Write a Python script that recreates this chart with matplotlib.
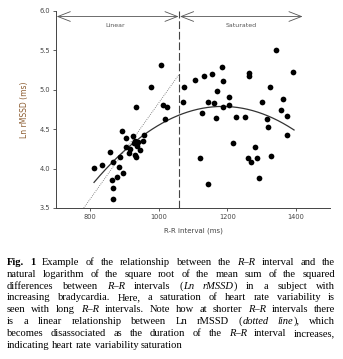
import re
import numpy as np
import matplotlib
matplotlib.use("Agg")
import matplotlib.pyplot as plt

# R-R interval (ms) and Ln rMSSD (ms)
rr = [811, 833, 859, 865, 864, 867, 865, 879, 884, 886, 895, 894, 903, 903,
      914, 916, 925, 927, 932, 940, 937, 932, 935, 935, 945, 955, 957, 977,
      1007, 1011, 1023, 1017,
      1070, 1075, 1106, 1119, 1125, 1131, 1143, 1143, 1155, 1162, 1170, 1167,
      1185, 1189, 1189, 1204, 1206, 1218, 1225, 1253, 1263, 1263, 1261, 1269,
      1281, 1286, 1292, 1302, 1317, 1320, 1324, 1329, 1341, 1358, 1362, 1374,
      1374, 1392]
ln_rmssd = [4.01, 4.05, 4.21, 4.09, 3.86, 3.76, 3.61, 3.89, 4.02, 4.15, 3.95,
            4.48, 4.39, 4.28, 4.20, 4.25, 4.41, 4.32, 4.35, 4.34, 4.29, 4.17,
            4.15, 4.78, 4.23, 4.35, 4.43, 5.03, 5.31, 4.81, 4.78, 4.63,
            4.84, 5.04, 5.13, 4.14, 4.71, 5.17, 4.84, 3.80, 5.20, 4.83, 4.99,
            4.64, 5.29, 5.11, 4.78, 4.91, 4.81, 4.32, 4.65, 4.66, 5.21, 5.18,
            4.13, 4.09, 4.28, 4.13, 3.88, 4.84, 4.63, 4.53, 5.04, 4.16, 5.50,
            4.74, 4.88, 4.67, 4.43, 5.22]

# quadratic fit, y = c0 + c1*(x - 1060) + c2*(x - 1060)^2
quad_coef = [4.68, 0.001728, -6.851e-6]
quad_range = [811, 1395]
# dotted linear relationship
lin_x = [781, 1060]
lin_y = [3.50, 5.20]
split_rr = 1060

caption = [
    "#Fig. 1#  Example of the relationship between the *R–R* interval and the",
    "natural logarithm of the square root of the mean sum of the squared",
    "differences between *R–R* intervals (*Ln rMSSD*) in a subject with",
    "increasing bradycardia. Here, a saturation of heart rate variability is",
    "seen with long *R–R* intervals. Note how at shorter *R–R* intervals there",
    "is a linear relationship between Ln rMSSD (*dotted line*), which",
    "becomes disassociated as the duration of the *R–R* interval increases,",
    "indicating heart rate variability saturation",
]

W, H = 343, 359
fig = plt.figure(figsize=(W / 100, H / 100), dpi=100)
ax = fig.add_axes([56 / W, 1 - 208 / H, 274 / W, 197 / H])

ax.scatter(rr, ln_rmssd, s=17, color="black", linewidths=0, zorder=3)

xs = np.linspace(quad_range[0], quad_range[1], 200)
u = xs - split_rr
ax.plot(xs, quad_coef[0] + quad_coef[1] * u + quad_coef[2] * u ** 2,
        color="#333333", lw=0.9, zorder=2)
ax.plot(lin_x, lin_y, color="#666666", lw=0.6, ls=(0, (1, 1.5)), zorder=2)
ax.plot([split_rr, split_rr], [3.5, 6.0], color="#444444", lw=0.8,
        dashes=(7, 2.5), clip_on=False)

arrow = dict(arrowstyle="<->,head_length=0.9,head_width=0.35",
             color="#555555", lw=0.6, shrinkA=0, shrinkB=0)
ax.annotate("", xy=(702, 5.93), xytext=(split_rr - 2, 5.93), arrowprops=arrow)
ax.annotate("", xy=(split_rr + 2, 5.93), xytext=(1420, 5.93), arrowprops=arrow)
ax.text(874, 5.82, "Linear", fontsize=4.5, color="#555555", ha="center", va="center")
ax.text(1240, 5.82, "Saturated", fontsize=4.5, color="#555555", ha="center", va="center")

ax.set_xlim(700, 1500)
ax.set_ylim(3.5, 6.0)
ax.set_xticks([800, 1000, 1200, 1400])
ax.set_yticks([3.5, 4.0, 4.5, 5.0, 5.5, 6.0])
ax.set_yticklabels(["3.5", "4.0", "4.5", "5.0", "5.5", "6.0"])
for s in ["top", "right"]:
    ax.spines[s].set_visible(False)
for s in ["left", "bottom"]:
    ax.spines[s].set_color("#444444")
    ax.spines[s].set_linewidth(0.7)
ax.tick_params(labelsize=4.8, labelcolor="#444444", color="#444444",
               length=2, width=0.6, pad=2)
ax.set_xlabel("R-R interval (ms)", fontsize=5, color="#444444", labelpad=6)
ax.set_ylabel("Ln rMSSD (ms)", fontsize=5.5, color="#8a5a2e", labelpad=8)

# justified caption
fig.canvas.draw()
rend = fig.canvas.get_renderer()
cap_fs = 7.6
line_h = 11.8
left, right = 7, 335


def parse(line):
    words = []
    ital = bold = False
    for w in line.split(" "):
        if w == "":
            continue
        chunks = []
        for part in re.split(r"([*#])", w):
            if part == "*":
                ital = not ital
            elif part == "#":
                bold = not bold
            elif part:
                chunks.append((part, ital, bold))
        words.append(chunks)
    return words


def make(txt, ital, bold, x, y):
    return fig.text(x / W, y, txt, fontsize=cap_fs, family="Liberation Serif",
                    style="italic" if ital else "normal",
                    weight="bold" if bold else "normal",
                    va="baseline", ha="left", color="black")


for i, line in enumerate(caption):
    y = 1 - (265 + line_h * i) / H
    words = parse(line)
    objs, widths = [], []
    for chunks in words:
        row, wsum = [], 0
        for txt, it, bd in chunks:
            t = make(txt, it, bd, 0, y)
            wd = t.get_window_extent(rend).width
            row.append((t, wd))
            wsum += wd
        objs.append(row)
        widths.append(wsum)
    if i < len(caption) - 1:
        gap = (right - left - sum(widths)) / (len(words) - 1)
    else:
        sp = make(" ", False, False, 0, y)
        gap = sp.get_window_extent(rend).width
        sp.remove()
    x = left
    for row, wsum in zip(objs, widths):
        cx = x
        for t, wd in row:
            t.set_x(cx / W)
            cx += wd
        x += wsum + gap

fig.savefig("out.png", dpi=100)
